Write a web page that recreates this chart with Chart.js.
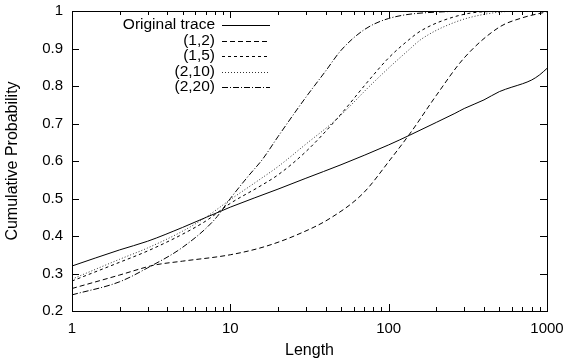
<!DOCTYPE html>
<html>
<head>
<meta charset="utf-8">
<script src="https://cdn.jsdelivr.net/npm/chart.js@4/dist/chart.umd.min.js"></script>
<style>
  html, body { margin: 0; padding: 0; background: #fff; }
  #wrap { width: 566px; height: 363px; position: relative; }
</style>
</head>
<body>
<div id="wrap"><canvas id="c" width="566" height="363"></canvas></div>
<script>
// ---- data ----
const seriesLabels = ["Original trace", "(1,2)", "(1,5)", "(2,10)", "(2,20)"];

const origX = [1, 2, 3, 5, 10, 20, 30, 50, 100, 136, 200, 262, 300, 400, 500, 600, 700, 800, 900, 1000];
const origY = [0.32, 0.363, 0.386, 0.423, 0.477, 0.525, 0.554, 0.59, 0.643, 0.669, 0.703, 0.727, 0.74, 0.763, 0.785, 0.797, 0.806, 0.816, 0.83, 0.847];

const s12X = [1, 2, 3, 3.36, 5, 10, 16.3, 26.3, 42.6, 69, 102, 140, 200, 300, 500, 700, 1000];
const s12Y = [0.26, 0.296, 0.318, 0.323, 0.333, 0.35, 0.371, 0.403, 0.447, 0.514, 0.603, 0.68, 0.775, 0.875, 0.957, 0.982, 0.998];

const s15X = [1, 2, 3, 5, 7, 10, 15, 20, 30, 47, 76, 100, 133, 161, 262, 400, 1000];
const s15Y = [0.28, 0.33, 0.36, 0.405, 0.44, 0.487, 0.53, 0.563, 0.625, 0.712, 0.818, 0.875, 0.922, 0.948, 0.985, 0.998, 1.0];

const s210X = [1, 2, 3, 5, 7, 10, 15, 20, 30, 47, 76, 100, 133, 161, 262, 425, 700, 1000];
const s210Y = [0.285, 0.338, 0.368, 0.413, 0.45, 0.497, 0.548, 0.585, 0.645, 0.712, 0.80, 0.848, 0.895, 0.925, 0.97, 0.993, 1.0, 1.0];

const s220X = [1, 2, 3, 5, 8, 10, 13, 16, 20, 30, 40, 50, 70, 100, 200, 500, 1000];
const s220Y = [0.243, 0.278, 0.315, 0.37, 0.445, 0.50, 0.56, 0.605, 0.665, 0.77, 0.84, 0.895, 0.95, 0.98, 0.997, 1.0, 1.0];

const xTickValues = [1, 10, 100, 1000];
const yTickValues = [0.2, 0.3, 0.4, 0.5, 0.6, 0.7, 0.8, 0.9, 1.0];

// ---- build ----
function pts(xs, ys) { return xs.map((x, i) => ({ x: x, y: ys[i] })); }
const FONT = "'Liberation Sans', Arial, Helvetica, sans-serif";

const dashes = [[], [5, 3], [3, 3], [1, 2], [6, 2, 1, 2]];
const colors = ["#000", "#000", "#000", "#333", "#000"];
const allData = [pts(origX, origY), pts(s12X, s12Y), pts(s15X, s15Y), pts(s210X, s210Y), pts(s220X, s220Y)];

const datasets = allData.map((d, i) => ({
  label: seriesLabels[i],
  data: d,
  borderColor: colors[i],
  borderWidth: 1,
  borderDash: dashes[i],
  pointRadius: 0,
  fill: false,
  showLine: true,
  cubicInterpolationMode: 'monotone'
}));

function zeroPad(scale) {
  scale.paddingLeft = 0; scale.paddingRight = 0;
  scale.paddingTop = 0; scale.paddingBottom = 0;
}

const framePlugin = {
  id: 'frame',
  afterDraw(chart) {
    const ctx = chart.ctx;
    const a = chart.chartArea;
    const xs = chart.scales.x, ys = chart.scales.y;
    ctx.save();
    ctx.strokeStyle = '#000';
    ctx.lineWidth = 1;
    ctx.setLineDash([]);
    ctx.strokeRect(Math.round(a.left) + 0.5, Math.round(a.top) + 0.5,
                   Math.round(a.right - a.left), Math.round(a.bottom - a.top));
    ctx.beginPath();
    yTickValues.forEach(v => {
      const py = Math.round(ys.getPixelForValue(v)) + 0.5;
      ctx.moveTo(a.left, py); ctx.lineTo(a.left + 7, py);
      ctx.moveTo(a.right, py); ctx.lineTo(a.right - 7, py);
    });
    xTickValues.forEach(v => {
      const px = Math.round(xs.getPixelForValue(v)) + 0.5;
      ctx.moveTo(px, a.bottom); ctx.lineTo(px, a.bottom - 7);
      ctx.moveTo(px, a.top); ctx.lineTo(px, a.top + 7);
    });
    for (let dec = 1; dec < 1000; dec *= 10) {
      for (let m = 2; m <= 9; m++) {
        const px = Math.round(xs.getPixelForValue(m * dec)) + 0.5;
        ctx.moveTo(px, a.bottom); ctx.lineTo(px, a.bottom - 4);
        ctx.moveTo(px, a.top); ctx.lineTo(px, a.top + 4);
      }
    }
    ctx.stroke();

    // legend (text right-aligned, line sample on the right)
    ctx.font = '15.5px ' + FONT;
    ctx.textAlign = 'right';
    ctx.textBaseline = 'middle';
    ctx.fillStyle = '#000';
    chart.data.datasets.forEach((ds, i) => {
      const y = 25 + i * 15.5;
      ctx.fillText(ds.label, 215, y);
      ctx.beginPath();
      ctx.strokeStyle = ds.borderColor;
      ctx.setLineDash(ds.borderDash || []);
      const ly = Math.round(y) + 0.5;
      ctx.moveTo(222, ly); ctx.lineTo(270, ly);
      ctx.stroke();
    });
    ctx.restore();
  }
};

new Chart(document.getElementById('c'), {
  type: 'scatter',
  data: { datasets: datasets },
  options: {
    responsive: false,
    animation: false,
    devicePixelRatio: 1,
    layout: { padding: { left: 0, right: 19, top: 11, bottom: 0 } },
    plugins: { legend: { display: false }, tooltip: { enabled: false } },
    scales: {
      x: {
        type: 'logarithmic',
        min: 1, max: 1000,
        afterBuildTicks(scale) { scale.ticks = xTickValues.map(v => ({ value: v })); },
        afterFit(scale) { scale.height = 52; zeroPad(scale); },
        grid: { display: false, drawTicks: false },
        border: { display: false },
        ticks: {
          color: '#000', font: { family: FONT, size: 15 }, padding: 9,
          maxRotation: 0, autoSkip: false,
          callback: (v) => String(v)
        },
        title: { display: true, text: 'Length', color: '#000',
                 font: { family: FONT, size: 16 }, padding: { top: 0, bottom: 3 } }
      },
      y: {
        type: 'linear',
        min: 0.2, max: 1,
        afterBuildTicks(scale) { scale.ticks = yTickValues.map(v => ({ value: v })); },
        afterFit(scale) { scale.width = 72; zeroPad(scale); },
        grid: { display: false, drawTicks: false },
        border: { display: false },
        ticks: {
          color: '#000', font: { family: FONT, size: 15 }, padding: 9,
          callback: (v) => String(Number(v.toFixed(1)))
        },
        title: { display: true, text: 'Cumulative Probability', color: '#000',
                 font: { family: FONT, size: 16 }, padding: { top: 3, bottom: 0 } }
      }
    }
  },
  plugins: [framePlugin]
});
</script>
</body>
</html>
